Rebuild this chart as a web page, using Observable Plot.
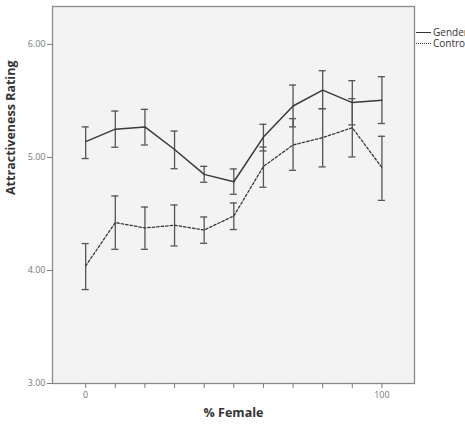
<!DOCTYPE html>
<html>
<head>
<meta charset="utf-8">
<script src="https://cdn.jsdelivr.net/npm/d3@7"></script>
<script src="https://cdn.jsdelivr.net/npm/@observablehq/plot@0.6"></script>
<style>
  html, body { margin: 0; padding: 0; background: #fff; }
  #wrap { position: relative; width: 465px; height: 425px; overflow: hidden; }
  #legend { position: absolute; left: 416px; top: 27px; font-family: "Open Sans", sans-serif; font-size: 10px; line-height: 11px; color: #333; white-space: nowrap; }
  .row { display: flex; align-items: center; height: 11px; line-height: 11px; }
  .sw { width: 15px; height: 0; margin-right: 2px; }
</style>
</head>
<body>
<div id="wrap"><div id="chart"></div>
<div id="legend">
  <div class="row"><span class="sw" style="border-top:1.5px solid #333"></span><span>Gender</span></div>
  <div class="row"><span class="sw" style="border-top:1.5px dotted #333"></span><span>Control</span></div>
</div>
</div>
<script>
const pct = [0, 10, 20, 30, 40, 50, 60, 70, 80, 90, 100];
const genderMean = [5.14, 5.25, 5.27, 5.07, 4.85, 4.785, 5.18, 5.455, 5.595, 5.485, 5.505];
const genderLo   = [4.99, 5.09, 5.11, 4.90, 4.78, 4.674, 5.057, 5.27, 5.431, 5.288, 5.30];
const genderHi   = [5.27, 5.41, 5.425, 5.233, 4.921, 4.898, 5.293, 5.64, 5.767, 5.679, 5.714];
const controlMean = [4.04, 4.424, 4.376, 4.40, 4.358, 4.482, 4.92, 5.11, 5.175, 5.263, 4.91];
const controlLo   = [3.831, 4.187, 4.187, 4.217, 4.24, 4.362, 4.736, 4.886, 4.916, 5.004, 4.62];
const controlHi   = [4.238, 4.659, 4.561, 4.579, 4.473, 4.597, 5.092, 5.343, 5.431, 5.52, 5.187];
const yTicks = [3, 4, 5, 6];
const xLabelled = [0, 100];

const rows = [];
pct.forEach((p, i) => {
  rows.push({group: "Gender", x: p, y: genderMean[i], lo: genderLo[i], hi: genderHi[i]});
  rows.push({group: "Control", x: p, y: controlMean[i], lo: controlLo[i], hi: controlHi[i]});
});
const gender = rows.filter(d => d.group === "Gender");
const control = rows.filter(d => d.group === "Control");
const capHalf = 1.2;
const barColor = "#555";

const chart = Plot.plot({
  width: 465,
  height: 425,
  marginTop: 6,
  marginLeft: 52,
  marginRight: 51,
  marginBottom: 42,
  style: {fontFamily: "Open Sans, sans-serif", fontSize: "9px", background: "#fff"},
  x: {domain: [-11.2, 111], label: null},
  y: {domain: [3, 6.335], label: null},
  marks: [
    Plot.frame({fill: "#f3f3f3", stroke: "#8a8a8a", strokeWidth: 1.3}),
    Plot.axisY(yTicks, {tickSize: 5, tickPadding: 2, tickFormat: d3.format(".2f"), color: "#777", stroke: "#777", label: null}),
    Plot.axisX(pct, {tickSize: 5, tickPadding: 3, tickFormat: d => xLabelled.includes(d) ? String(d) : "", color: "#777", stroke: "#777", label: null}),
    Plot.ruleX(rows, {x: "x", y1: "lo", y2: "hi", stroke: barColor, strokeWidth: 1.3}),
    Plot.ruleY(rows, {y: "lo", x1: d => d.x - capHalf, x2: d => d.x + capHalf, stroke: barColor, strokeWidth: 1.3}),
    Plot.ruleY(rows, {y: "hi", x1: d => d.x - capHalf, x2: d => d.x + capHalf, stroke: barColor, strokeWidth: 1.3}),
    Plot.line(gender, {x: "x", y: "y", stroke: "#3a3a3a", strokeWidth: 1.5}),
    Plot.line(control, {x: "x", y: "y", stroke: "#3a3a3a", strokeWidth: 1.3, strokeDasharray: "2.5,2"}),
    Plot.text(["Attractiveness Rating"], {frameAnchor: "left", dx: -42, rotate: -90, fontSize: 12.5, fontWeight: "bold", fill: "#333"}),
    Plot.text(["% Female"], {frameAnchor: "bottom", dy: 33, fontSize: 12.5, fontWeight: "bold", fill: "#333"})
  ]
});
document.getElementById("chart").appendChild(chart);
</script>
</body>
</html>
